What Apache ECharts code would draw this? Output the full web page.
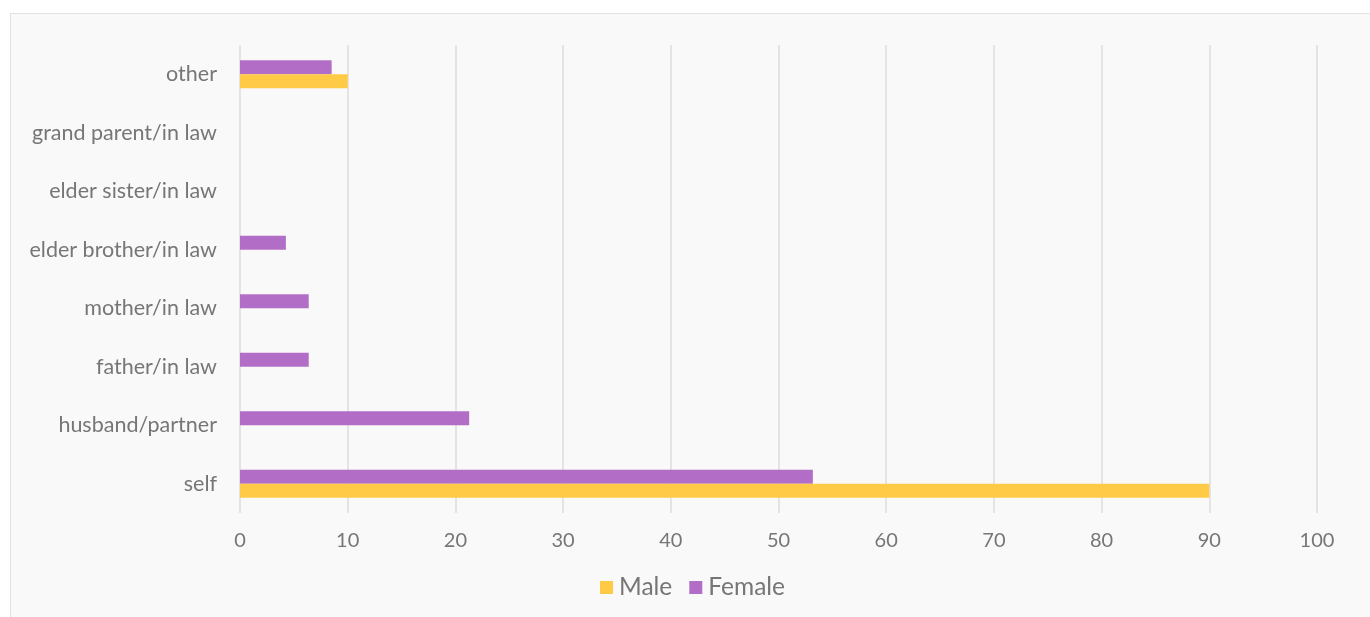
<!DOCTYPE html>
<html>
<head>
<meta charset="utf-8">
<script src="https://cdn.jsdelivr.net/npm/echarts@6/dist/echarts.min.js"></script>
<style>
  html, body { margin: 0; padding: 0; background: #ffffff; }
  #frame {
    position: absolute; left: 10px; top: 13px; width: 1370px; height: 620px;
    background: #f9f9f9; border: 1px solid #e2e2e2; box-sizing: border-box;
  }
  #chart { position: absolute; left: 0; top: 0; width: 1370px; height: 617px; }
</style>
</head>
<body>
<div id="frame"></div>
<div id="chart"></div>
<script>
// Who made the decision, share of respondents (%) by sex
const categories = [
  'self', 'husband/partner', 'father/in law', 'mother/in law',
  'elder brother/in law', 'elder sister/in law', 'grand parent/in law', 'other'
];
const maleValues = [90, 0, 0, 0, 0, 0, 0, 10];
const femaleValues = [53.19, 21.28, 6.38, 6.38, 4.26, 0, 0, 8.51];
const xTicks = { min: 0, max: 100, interval: 10 };

const textColor = '#767676';
const fontFamily = 'Lato, "Noto Sans", sans-serif';
const maleColor = '#FFCA45';
const femaleColor = '#B26EC6';

const chart = echarts.init(document.getElementById('chart'), null, { renderer: 'canvas' });
chart.setOption({
  backgroundColor: 'transparent',
  animation: false,
  grid: { left: 240, right: 53, top: 45, bottom: 104, containLabel: false },
  legend: {
    data: ['Male', 'Female'],
    left: 595,
    top: 570,
    itemWidth: 13,
    itemHeight: 13,
    itemGap: 17,
    icon: 'rect',
    textStyle: { color: textColor, fontSize: 24.5, fontFamily: fontFamily, padding: [0, 0, 0, 1] }
  },
  xAxis: {
    type: 'value',
    min: xTicks.min,
    max: xTicks.max,
    interval: xTicks.interval,
    axisLine: { show: false },
    axisTick: { show: false },
    axisLabel: { color: textColor, fontSize: 20, fontFamily: fontFamily, margin: 18 },
    splitLine: { show: true, lineStyle: { color: '#dcdcdc', width: 1.5 } }
  },
  yAxis: {
    type: 'category',
    data: categories,
    axisLine: { show: false },
    axisTick: { show: false },
    axisLabel: { color: textColor, fontSize: 21.5, fontFamily: fontFamily, margin: 23, padding: [0, 0, 3, 0] },
    splitLine: { show: false }
  },
  // Female drawn first so it sits above Male within each category band
  series: [
    {
      name: 'Female',
      type: 'bar',
      data: femaleValues,
      barWidth: 14,
      barGap: '0%',
      itemStyle: { color: femaleColor }
    },
    {
      name: 'Male',
      type: 'bar',
      data: maleValues,
      barWidth: 14,
      barGap: '0%',
      itemStyle: { color: maleColor }
    }
  ]
});
</script>
</body>
</html>
